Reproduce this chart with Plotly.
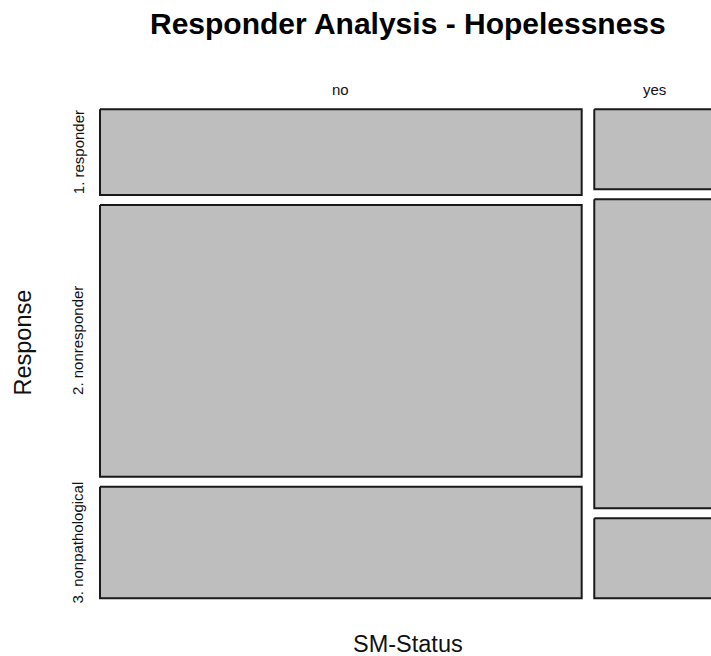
import plotly.graph_objects as go

# ---- data ----
sm_status = ["no", "yes"]
responses = ["1. responder", "2. nonresponder", "3. nonpathological"]
counts_no = [30, 95, 39]
counts_yes = [7, 27, 7]

# ---- layout constants ----
W, H = 711, 656
PX_X = 602.1      # pixels per x unit
PX_Y = 469.0      # pixels per y unit
X0_PX, Y0_PX = 100.0, 109.3   # pixel of data origin
GAP_X = 12.6 / PX_X
GAP_Y = 10.0 / PX_Y
ML, MR, MT, MB = 90, 0, 99, 48
FONT = "Liberation Sans, Arial, sans-serif"
FILL = "#bebebe"
EDGE = "#1a1a1a"

columns = [counts_no, counts_yes]
grand = sum(sum(c) for c in columns)

fig = go.Figure()
row_centers = []
x_cursor = 0.0
col_centers = []
for ci, col in enumerate(columns):
    tot = sum(col)
    w = tot / grand
    xa, xb = x_cursor, x_cursor + w
    col_centers.append((xa + xb) / 2)
    y_cursor = 0.0
    for ri, c in enumerate(col):
        h = c / tot
        ya, yb = y_cursor, y_cursor + h
        if ci == 0:
            row_centers.append((ya + yb) / 2)
        fig.add_trace(go.Scatter(
            x=[xa, xb, xb, xa, xa], y=[ya, ya, yb, yb, ya],
            mode="lines", fill="toself", fillcolor=FILL,
            line=dict(color=EDGE, width=2), hoverinfo="skip", showlegend=False))
        y_cursor = yb + GAP_Y
    x_cursor = xb + GAP_X

plot_w = W - ML - MR
plot_h = H - MT - MB
x_lo = -(X0_PX - ML) / PX_X
x_hi = x_lo + plot_w / PX_X
y_top = -(Y0_PX - MT) / PX_Y
y_bot = y_top + plot_h / PX_Y

def px_to_paper_x(px):
    return (px - ML) / plot_w

def px_to_paper_y(py):
    return 1 - (py - MT) / plot_h

annotations = []
for name, cx in zip(sm_status, col_centers):
    annotations.append(dict(text=name, x=cx, xref="x", y=1, yref="paper",
                            yanchor="middle", xanchor="center", yshift=10,
                            showarrow=False, font=dict(size=15, color="#111", family=FONT)))
for name, cy in zip(responses, row_centers):
    annotations.append(dict(text=name, x=0, xref="x", y=cy, yref="y",
                            xanchor="center", yanchor="middle", xshift=-22,
                            textangle=-90, showarrow=False,
                            font=dict(size=15, color="#111", family=FONT)))
annotations.append(dict(text="Response", x=px_to_paper_x(22), xref="paper",
                        y=px_to_paper_y(342.5), yref="paper", textangle=-90,
                        xanchor="center", yanchor="middle", showarrow=False,
                        font=dict(size=23.5, color="#111", family=FONT)))
annotations.append(dict(text="SM-Status", x=px_to_paper_x(408), xref="paper",
                        y=px_to_paper_y(644), yref="paper",
                        xanchor="center", yanchor="middle", showarrow=False,
                        font=dict(size=23.5, color="#111", family=FONT)))
annotations.append(dict(text="<b>Responder Analysis - Hopelessness</b>",
                        x=px_to_paper_x(408), xref="paper",
                        y=px_to_paper_y(23.5), yref="paper",
                        xanchor="center", yanchor="middle", showarrow=False,
                        font=dict(size=30, color="#000", family=FONT)))

fig.update_layout(
    width=W, height=H,
    margin=dict(l=ML, r=MR, t=MT, b=MB, autoexpand=False),
    paper_bgcolor="white", plot_bgcolor="white",
    xaxis=dict(range=[x_lo, x_hi], visible=False, fixedrange=True),
    yaxis=dict(range=[y_bot, y_top], visible=False, fixedrange=True),
    annotations=annotations,
    showlegend=False,
)

fig.write_html(
    "out.html",
    config={"displayModeBar": False},
    post_script="document.body.style.margin='0';document.body.style.overflow='hidden';",
)
